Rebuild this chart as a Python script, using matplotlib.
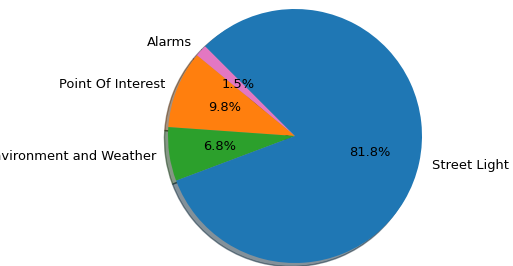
import matplotlib
matplotlib.use("Agg")
import matplotlib.pyplot as plt

# share of devices per category (percent)
labels = ['Alarms', 'Point Of Interest', 'Environment and Weather', 'Street Light']
shares = [1.54, 9.84, 6.84, 81.78]
colors = ['#e377c2', '#ff7f0e', '#2ca02c', '#1f77b4']


def main() -> None:
    fig = plt.figure(figsize=(5.13, 2.66), dpi=100)
    ax = fig.add_axes([0, 0, 1, 1])
    ax.pie(shares, labels=labels, colors=colors, autopct='%1.1f%%',
           shadow=True, startangle=135, textprops={'fontsize': 9.4})
    # radius of 127 px, centre at (295, 136) from top-left
    r = 127.0
    ax.set_xlim(-295 / r, (513 - 295) / r)
    ax.set_ylim(-130 / r, 136 / r)
    ax.set_aspect('auto')
    ax.axis('off')
    fig.savefig('out.png', dpi=100)


if __name__ == "__main__":
    main()
